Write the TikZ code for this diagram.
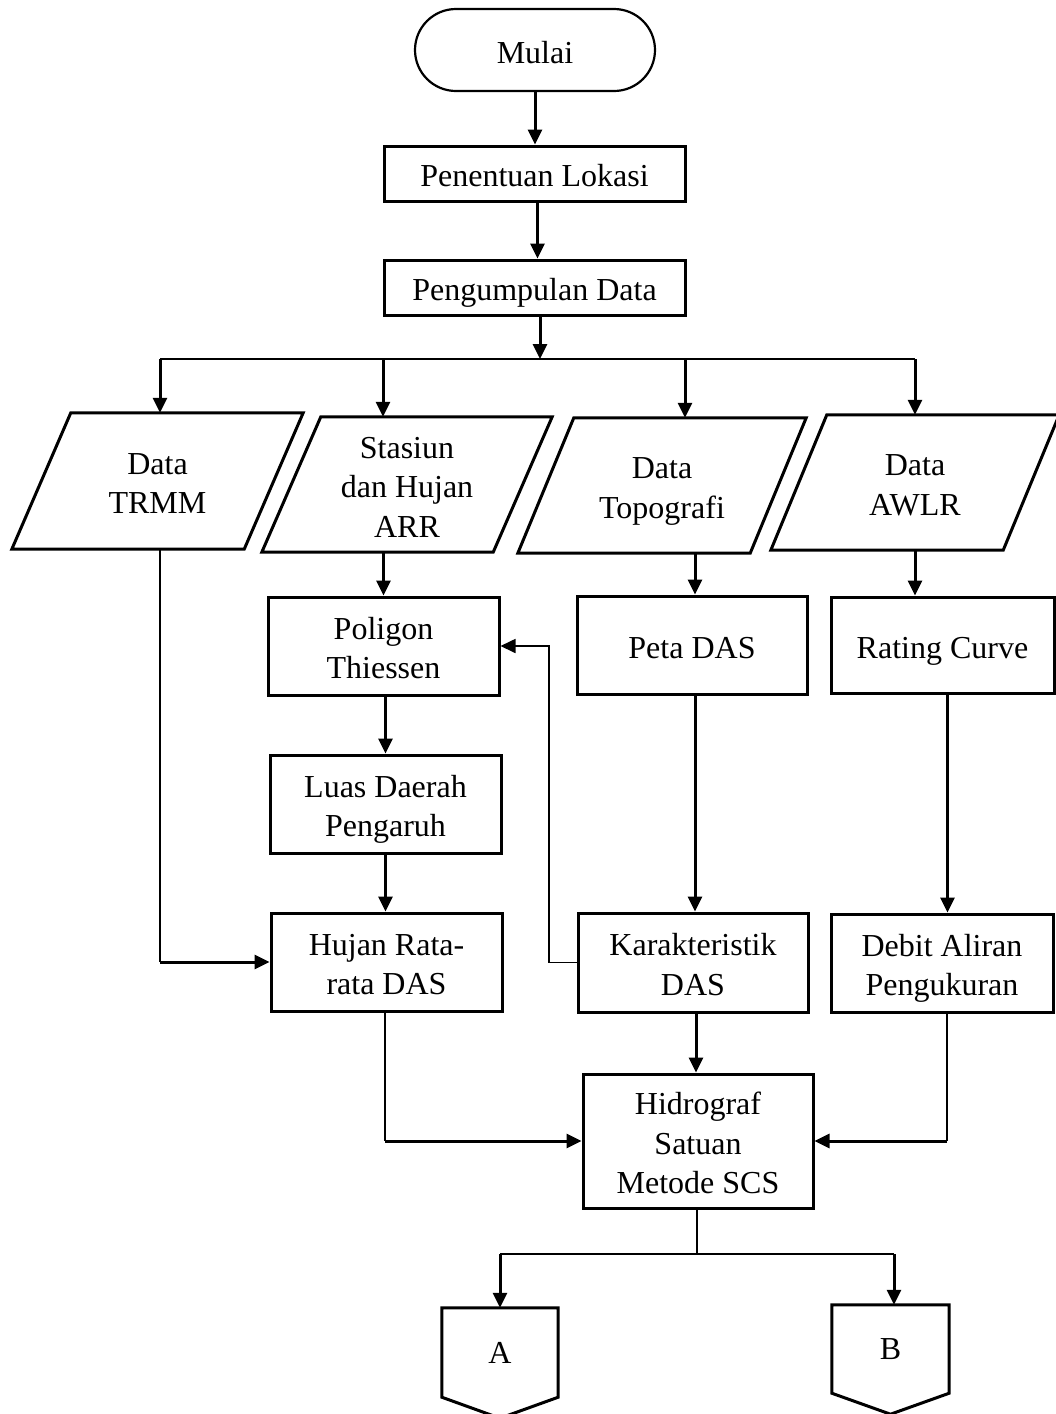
\documentclass[tikz,border=0pt]{standalone}
\usepackage{fontspec}
\setmainfont{Liberation Serif}
\usetikzlibrary{arrows.meta}
\newcommand\tx[1]{\rule{0pt}{33pt}#1\rule[-7pt]{0pt}{0pt}}
\begin{document}
\begin{tikzpicture}[x=1pt,y=-1pt,
  every node/.style={font=\fontsize{32}{39.5}\selectfont, align=center, inner sep=0pt},
  termbox/.style={draw, line width=2.2pt, rounded corners=41pt},
  procbox/.style={draw, line width=3pt},
  iobox/.style={},
  shapeline/.style={line width=3pt, line join=miter},
  arr/.style={line width=3pt, -{Triangle[length=15pt,width=14pt]}},
  thinl/.style={line width=1.7pt},
  thinarr/.style={line width=1.7pt, -{Triangle[length=15pt,width=14pt]}}]
\useasboundingbox (0,0) rectangle (1056,1414);

% nodes
\node[termbox, minimum width=240pt, minimum height=82pt] (mulai) at (535,50) {\tx{Mulai}};
\node[procbox, minimum width=301pt, minimum height=55pt] (pen) at (534.5,173.5) {\tx{Penentuan Lokasi}};
\node[procbox, minimum width=301pt, minimum height=55pt] (peng) at (534.5,287.5) {\tx{Pengumpulan Data}};

\node[iobox, minimum width=291pt, minimum height=136pt] (trmm) at (157.5,481) {\tx{Data\\TRMM}};
\node[iobox, minimum width=290pt, minimum height=135pt] (stasiun) at (407,484.5) {\tx{Stasiun\\dan Hujan\\ARR}};
\node[iobox, minimum width=288pt, minimum height=135pt] (topo) at (662,485.5) {\tx{Data\\Topografi}};
\node[iobox, minimum width=288pt, minimum height=135pt] (awlr) at (915,482.5) {\tx{Data\\AWLR}};

\draw[shapeline] ([xshift=59pt]trmm.north west) -- (trmm.north east) -- ([xshift=-59pt]trmm.south east) -- (trmm.south west) -- cycle;
\draw[shapeline] ([xshift=59pt]stasiun.north west) -- (stasiun.north east) -- ([xshift=-59pt]stasiun.south east) -- (stasiun.south west) -- cycle;
\draw[shapeline] ([xshift=56pt]topo.north west) -- (topo.north east) -- ([xshift=-56pt]topo.south east) -- (topo.south west) -- cycle;
\draw[shapeline] ([xshift=56pt]awlr.north west) -- (awlr.north east) -- ([xshift=-56pt]awlr.south east) -- (awlr.south west) -- cycle;

\node[procbox, minimum width=231pt, minimum height=98pt] (poligon) at (383.5,646) {\tx{Poligon\\Thiessen}};
\node[procbox, minimum width=231pt, minimum height=98pt] (luas) at (385.5,804) {\tx{Luas Daerah\\Pengaruh}};
\node[procbox, minimum width=231pt, minimum height=98pt] (hujan) at (386.5,962) {\tx{Hujan Rata-\\rata DAS}};
\node[procbox, minimum width=230pt, minimum height=98pt] (peta) at (692,645) {\tx{Peta DAS}};
\node[procbox, minimum width=223pt, minimum height=96pt] (rating) at (942.5,645) {\tx{Rating Curve}};
\node[procbox, minimum width=230pt, minimum height=99pt] (karak) at (693,962.5) {\tx{Karakteristik\\DAS}};
\node[procbox, minimum width=222pt, minimum height=98pt] (debit) at (942,963) {\tx{Debit Aliran\\Pengukuran}};
\node[procbox, minimum width=230pt, minimum height=134pt] (hidro) at (698,1141) {\tx{Hidrograf\\Satuan\\Metode SCS}};

\node[iobox, minimum width=116pt, minimum height=89pt] (A) at (500,1352.5) {A};
\node[iobox, minimum width=117pt, minimum height=88pt] (B) at (890.5,1349) {B};
\draw[shapeline] (A.south west) -- (A.north west) -- (A.north east) -- (A.south east) -- ([yshift=-21pt]A.south) -- cycle;
\draw[shapeline] (B.south west) -- (B.north west) -- (B.north east) -- (B.south east) -- ([yshift=-21pt]B.south) -- cycle;

% top chain
\draw[arr] (mulai.south) -- (mulai.south |- pen.north);
\draw[arr] ([xshift=3pt]pen.south) -- ([xshift=3pt]pen.south |- peng.north);
\coordinate (s0) at (540,359);
\coordinate (sL) at (160,359);
\coordinate (sS) at (383,359);
\coordinate (sT) at (685,359);
\coordinate (sR) at (915,359);
\draw[arr] (s0 |- peng.south) -- (s0);
\draw[thinl] (sL) -- (sR);
\draw[arr] (sL) -- (sL |- trmm.north);
\draw[arr] (sS) -- (sS |- stasiun.north);
\draw[arr] (sT) -- (sT |- topo.north);
\draw[arr] (sR) -- (sR |- awlr.north);

% second level
\draw[arr] (poligon.north |- stasiun.south) -- (poligon.north);
\draw[arr] ([xshift=2pt]poligon.south) -- ([xshift=2pt]poligon.south |- luas.north);
\draw[arr] (luas.south) -- (luas.south |- hujan.north);
\draw[arr] ([xshift=3pt]peta.north |- topo.south) -- ([xshift=3pt]peta.north);
\draw[arr] (awlr.south) -- (awlr.south |- rating.north);
\draw[arr] ([xshift=3pt]peta.south) -- ([xshift=3pt]peta.south |- karak.north);
\draw[arr] ([xshift=5pt]rating.south) -- ([xshift=5pt]rating.south |- debit.north);

% TRMM to Hujan
\coordinate (tc) at (160,962);
\draw[thinl] (tc |- trmm.south) -- (tc);
\draw[arr] (tc) -- (hujan.west);

% feedback Karakteristik -> Poligon
\coordinate (fb) at (549,800);
\draw[thinarr] (karak.west) -- (karak.west -| fb) |- (poligon.east);

% into Hidrograf
\coordinate (hc) at (385,1141);
\coordinate (dc) at (947,1141);
\draw[thinl] (hc |- hujan.south) -- (hc);
\draw[arr] (hc) -- (hidro.west);
\draw[thinl] (dc |- debit.south) -- (dc);
\draw[arr] (dc) -- (hidro.east);
\draw[arr] ([xshift=3pt]karak.south) -- ([xshift=3pt]karak.south |- hidro.north);

% split to A and B
\coordinate (h0) at (697,1254);
\coordinate (hA) at (500,1254);
\coordinate (hB) at (894,1254);
\draw[thinl] (h0 |- hidro.south) -- (h0);
\draw[thinl] (hA) -- (hB);
\draw[arr] (hA) -- (hA |- A.north);
\draw[arr] (hB) -- (hB |- B.north);
\end{tikzpicture}
\end{document}
